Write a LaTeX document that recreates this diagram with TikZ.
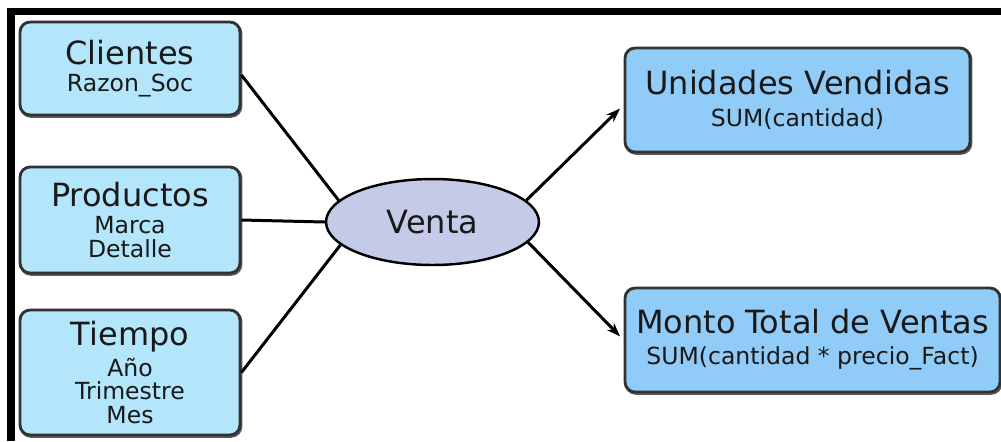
\documentclass[tikz,border=0pt]{standalone}
\usepackage{fontspec}
\setmainfont{DejaVu Sans}
\usetikzlibrary{shapes.geometric,arrows.meta}
\definecolor{dimfill}{RGB}{179,229,251}
\definecolor{measfill}{RGB}{145,203,247}
\definecolor{factfill}{RGB}{197,202,233}
\definecolor{edgegray}{RGB}{50,50,50}
\definecolor{inkgray}{RGB}{25,25,25}
\newcommand{\boxtitle}[1]{{\fontsize{18.2}{20}\selectfont #1}}
\tikzset{
  dimbox/.style={draw=edgegray, fill=dimfill, line width=1.6pt, rounded corners=0.2cm,
    minimum width=4.4cm, align=center, inner sep=0pt, text=inkgray,
    font=\fontsize{13.4}{13.4}\selectfont,
    preaction={draw=edgegray!80, line width=1.6pt, transform canvas={xshift=0.6pt,yshift=-0.8pt}}},
  measbox/.style={dimbox, fill=measfill},
  factnode/.style={ellipse, draw=black, fill=factfill, line width=1.4pt, inner sep=0pt,
    minimum width=4.26cm, minimum height=1.72cm, text=inkgray},
  link/.style={draw=black, line width=1.7pt},
  flow/.style={link, -{Stealth[length=0.28cm,width=0.2cm]}, shorten >=0.1cm},
  frameline/.style={black, line width=4pt}
}
\begin{document}
\begin{tikzpicture}[x=0.02cm,y=-0.02cm]
  \useasboundingbox (0,0) rectangle (1001,441);
  % outer frame (top and left rules)
  \draw[frameline] (11,441) -- (11,11.5) -- (1001,11.5);

  % dimensions
  \node[dimbox, minimum height=1.86cm] (cli) at (130,68.5)
    {\boxtitle{Clientes}\\[2pt]Razon\_Soc};
  \node[dimbox, minimum height=2.12cm] (pro) at (130,220)
    {\boxtitle{Productos}\\[2pt]Marca\\Detalle};
  \node[dimbox, minimum height=2.5cm] (tie) at (130,372.5)
    {\boxtitle{Tiempo}\\[2pt]Año\\Trimestre\\Mes};

  % fact
  \node[factnode] (ven) at (432.5,222) {\boxtitle{Venta}};

  % measures
  \node[measbox, minimum width=6.9cm, minimum height=2.08cm] (uni) at (797.5,100)
    {\boxtitle{Unidades Vendidas}\\[4.6pt]SUM(cantidad)};
  \node[measbox, minimum width=7.5cm, minimum height=2.08cm] (mon) at (812.5,340)
    {\boxtitle{Monto Total de Ventas}\\[4.2pt]SUM(cantidad * precio\_Fact)};

  % connectors
  \draw[link] ([yshift=-0.13cm]cli.east) -- (ven.167);
  \draw[link] (pro.east) -- (ven.180);
  \draw[link] (tie.east) -- (ven.194);
  \draw[flow] (ven.13) -- ([yshift=-0.1cm]uni.west);
  \draw[flow] (ven.-12) -- (mon.west);
\end{tikzpicture}
\end{document}
